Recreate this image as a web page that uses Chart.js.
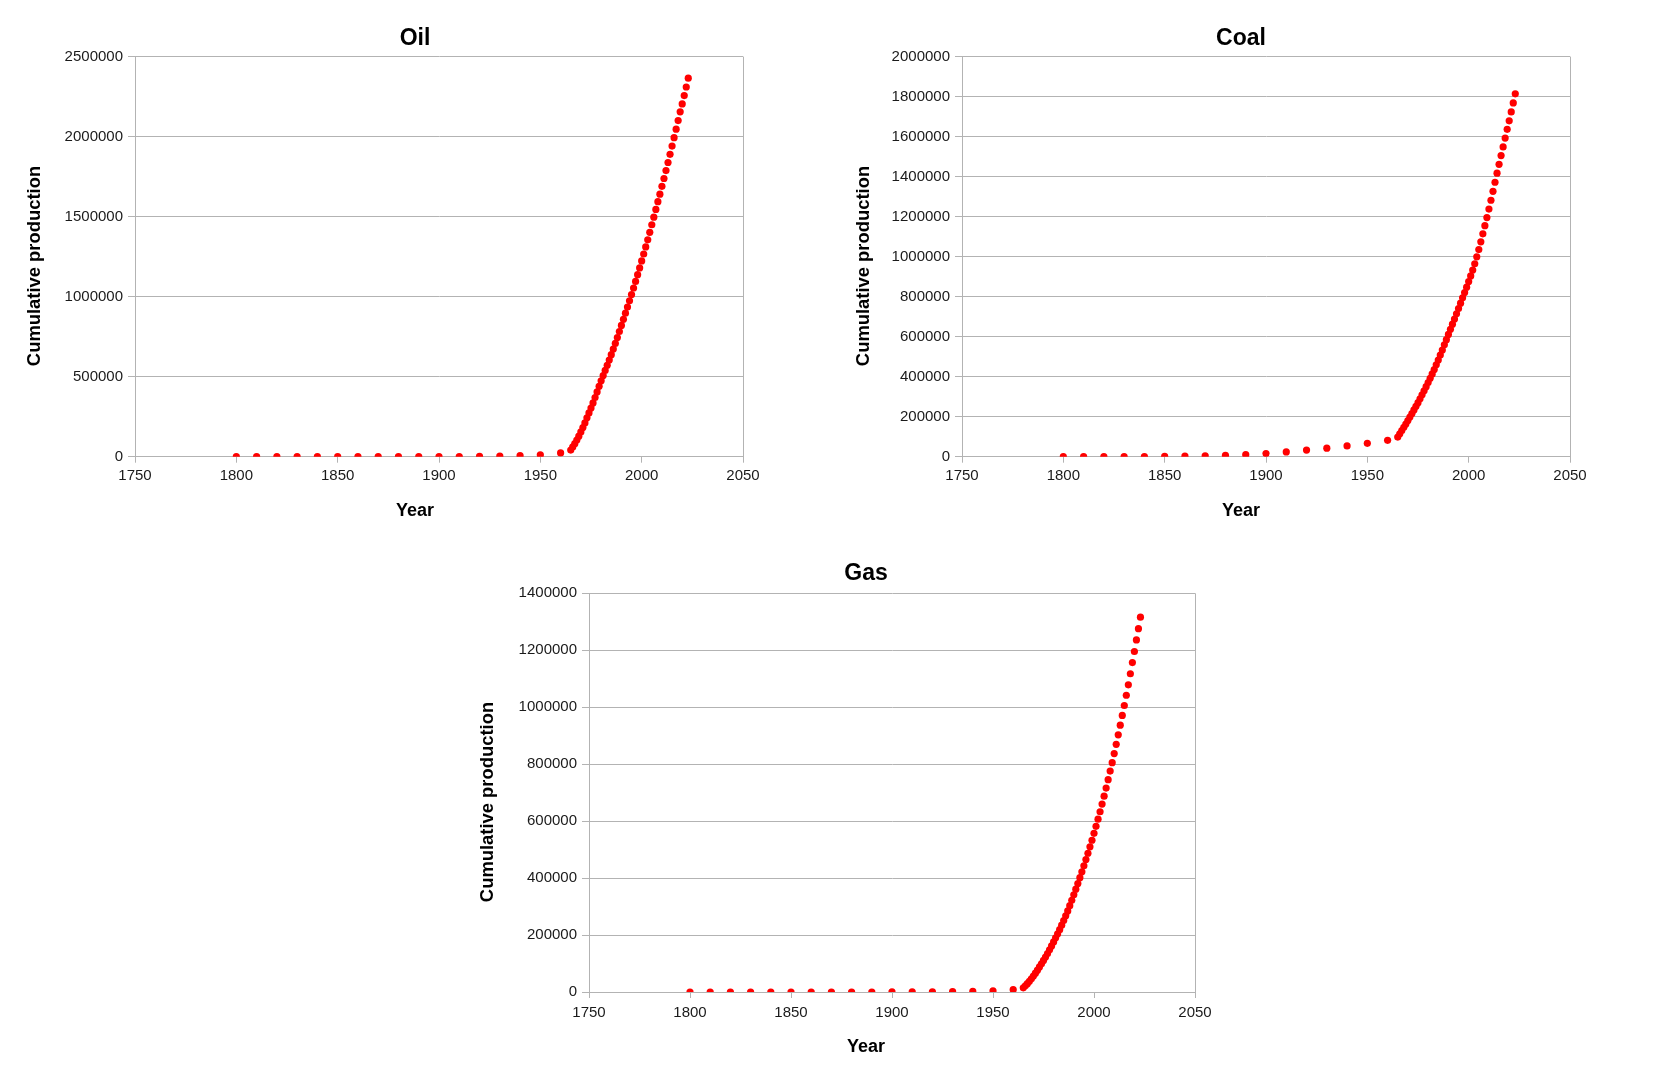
<!DOCTYPE html>
<html>
<head>
<meta charset="utf-8">
<title>Cumulative production</title>
<script src="https://cdn.jsdelivr.net/npm/chart.js@4.4.1/dist/chart.umd.min.js"></script>
<style>
    body { margin: 0; background: #fff; width: 1680px; height: 1071px; overflow: hidden; position: relative; }
    canvas { position: absolute; }
</style>
</head>
<body>
<canvas id="oilChart" width="830" height="540" style="left:0px; top:0px;"></canvas>
<canvas id="coalChart" width="828" height="540" style="left:827px; top:0px;"></canvas>
<canvas id="gasChart" width="824" height="535" style="left:454px; top:536px;"></canvas>

<script>
// DATA
let years = [
    1800, 1810, 1820, 1830, 1840, 1850, 1860, 1870, 1880, 1890, 1900, 1910, 1920, 1930, 1940, 1950, 1960,
    1965, 1966, 1967, 1968, 1969, 1970, 1971, 1972, 1973, 1974, 1975, 1976, 1977, 1978, 1979,
    1980, 1981, 1982, 1983, 1984, 1985, 1986, 1987, 1988, 1989, 1990, 1991, 1992, 1993, 1994,
    1995, 1996, 1997, 1998, 1999, 2000, 2001, 2002, 2003, 2004, 2005, 2006, 2007, 2008, 2009,
    2010, 2011, 2012, 2013, 2014, 2015, 2016, 2017, 2018, 2019, 2020, 2021, 2022, 2023
];

let oil = [
    0, 0, 0, 0, 0, 0, 0, 6, 39, 128, 309, 809, 1909, 3809, 6909, 12309, 23309,
    41400, 60800, 81500, 104000, 128300, 154500, 182000, 211300, 242600, 273300, 303800, 336300, 369900, 404500, 439800,
    473800, 506800, 539100, 571300, 604300, 637300, 672300, 708000, 744800, 782200, 820200, 858200, 896500, 934800, 973800,
    1013400, 1054000, 1095500, 1137200, 1179800, 1223000, 1266500, 1310500, 1355400, 1402000, 1449200, 1496900, 1545200, 1593200, 1640500,
    1689200, 1738400, 1788100, 1838400, 1889100, 1940700, 1993100, 2046400, 2100400, 2154700, 2204100, 2256300, 2310100, 2365500
];

let coal = [
    97, 225, 378, 642, 998, 1567, 2567, 4167, 6667, 10167, 15867, 23967, 32967, 42767, 54067, 66667, 82067,
    98200, 114400, 130400, 146700, 163500, 180800, 198100, 215600, 233600, 251700, 270200, 289400, 309100, 329100, 349900,
    370900, 392100, 413600, 435900, 459200, 483400, 508000, 533300, 559100, 585200, 611200, 636900, 662500, 688300, 714200,
    740500, 767300, 794100, 820600, 847400, 875200, 903500, 932800, 964600, 998900, 1035500, 1073900, 1114100, 1154900, 1195400,
    1237700, 1281900, 1326500, 1371800, 1417200, 1461600, 1505100, 1548600, 1592800, 1636700, 1678800, 1723300, 1768300, 1813900
];

let gas = [
    0, 0, 0, 0, 0, 0, 0, 0, 0, 64, 128, 289, 522, 1073, 1945, 4037, 8500,
    14800, 21850, 29400, 37550, 46400, 55950, 66100, 76750, 87900, 99250, 110700, 122750, 135200, 148150, 161900,
    175950, 190200, 204450, 218900, 234550, 250800, 267350, 284800, 302950, 321800, 341250, 361100, 381050, 401400, 421850,
    442900, 465050, 487200, 509750, 532900, 557050, 581600, 606950, 633000, 660050, 687700, 716050, 745400, 775650, 805300,
    837150, 869700, 903150, 937000, 971250, 1006100, 1041950, 1078700, 1117450, 1156900, 1195550, 1236200, 1275850, 1316200
];

let xTicks = [1750, 1800, 1850, 1900, 1950, 2000, 2050];
let oilTicks = [0, 500000, 1000000, 1500000, 2000000, 2500000];
let coalTicks = [0, 200000, 400000, 600000, 800000, 1000000, 1200000, 1400000, 1600000, 1800000, 2000000];
let gasTicks = [0, 200000, 400000, 600000, 800000, 1000000, 1200000, 1400000];

// STYLE
const FONT = "'Liberation Sans', Arial, sans-serif";
const GRID = "#b3b3b3";
const RED = "#ff0000";

// Y LABEL (centred on the whole chart height, like the original)
const yLabel = {
    id: 'yLabel',
    afterDraw(chart, args, opts) {
        let ctx = chart.ctx;
        ctx.save();
        ctx.translate(opts.x, opts.y);
        ctx.rotate(-Math.PI / 2);
        ctx.font = "bold 18.4px " + FONT;
        ctx.fillStyle = '#000';
        ctx.textAlign = 'center';
        ctx.textBaseline = 'middle';
        ctx.fillText(opts.text, 0, 0);
        ctx.restore();
    }
};

// CHART
function makeChart(id, title, values, yTicks, box) {
    let points = years.map((yr, i) => ({x: yr, y: values[i]}));

    new Chart(document.getElementById(id), {
        type: 'scatter',
        data: {
            datasets: [{
                data: points,
                pointRadius: 3.6,
                pointHoverRadius: 3.6,
                pointBackgroundColor: RED,
                pointBorderWidth: 0,
                showLine: false,
                yAxisID: 'y'
            }]
        },
        plugins: [yLabel],
        options: {
            responsive: false,
            animation: false,
            events: [],
            layout: { padding: 0 },
            plugins: {
                legend: { display: false },
                tooltip: { enabled: false },
                yLabel: { text: 'Cumulative production', x: box.labelX, y: box.labelY },
                title: {
                    display: true,
                    text: title,
                    color: '#000',
                    font: { family: FONT, size: 23, weight: 'bold', lineHeight: 1.2 },
                    padding: { top: box.titleTop, bottom: box.titleBottom }
                },
                subtitle: {
                    display: true,
                    position: 'bottom',
                    text: 'Year',
                    color: '#000',
                    font: { family: FONT, size: 18, weight: 'bold', lineHeight: 1.2 },
                    padding: { top: box.yearTop, bottom: box.yearBottom }
                }
            },
            scales: {
                x: {
                    type: 'linear',
                    min: 1750,
                    max: 2050,
                    afterBuildTicks: s => { s.ticks = xTicks.map(v => ({value: v})); },
                    afterFit: s => { s.height = 40; },
                    ticks: {
                        color: '#1a1a1a',
                        font: { family: FONT, size: 15 },
                        padding: box.xPad,
                        maxRotation: 0,
                        autoSkip: false,
                        callback: v => String(v)
                    },
                    grid: {
                        color: c => (c.tick && c.tick.value === 2050) ? GRID : 'rgba(0,0,0,0)',
                        tickColor: GRID,
                        tickLength: 6,
                        lineWidth: 1
                    },
                    border: { color: GRID, width: 1 }
                },
                y: {
                    type: 'linear',
                    position: 'left',
                    min: 0,
                    max: yTicks[yTicks.length - 1],
                    afterBuildTicks: s => { s.ticks = yTicks.map(v => ({value: v})); },
                    afterFit: s => { s.width = 135; },
                    ticks: {
                        color: '#1a1a1a',
                        font: { family: FONT, size: 15 },
                        padding: 5,
                        callback: v => String(v)
                    },
                    grid: { color: GRID, tickColor: GRID, tickLength: 7, lineWidth: 1 },
                    border: { color: GRID, width: 1 }
                },
                // empty space on the right so titles centre on the whole canvas
                pad: {
                    type: 'linear',
                    position: 'right',
                    afterFit: s => { s.width = box.right; },
                    ticks: { display: false },
                    grid: { display: false },
                    border: { display: false }
                }
            }
        }
    });
}

// INIT
makeChart("oilChart", "Oil", oil, oilTicks,
    {right: 87, titleTop: 25, titleBottom: 4, yearTop: 3.5, yearBottom: 18.2, xPad: 4, labelX: 35, labelY: 266});
makeChart("coalChart", "Coal", coal, coalTicks,
    {right: 85, titleTop: 25, titleBottom: 4, yearTop: 3.5, yearBottom: 18.2, xPad: 4, labelX: 37, labelY: 266});
makeChart("gasChart", "Gas", gas, gasTicks,
    {right: 83, titleTop: 24, titleBottom: 5.7, yearTop: 4, yearBottom: 13.4, xPad: 6, labelX: 34, labelY: 266});
</script>
</body>
</html>
